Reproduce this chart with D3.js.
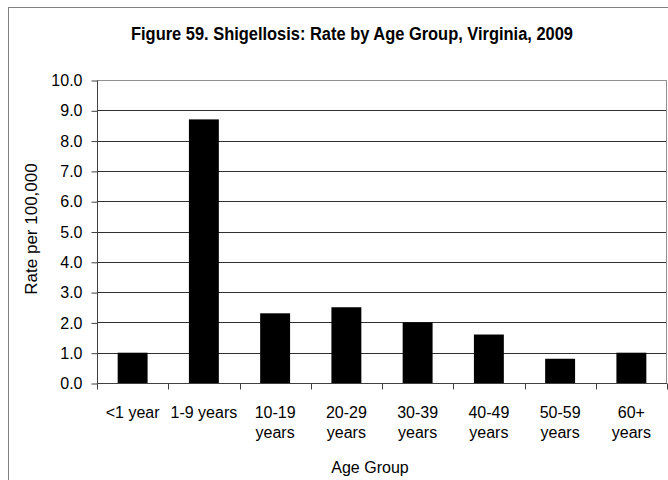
<!DOCTYPE html>
<html><head><meta charset="utf-8">
<script src="https://cdn.jsdelivr.net/npm/d3@7/dist/d3.min.js"></script>
<style>body{margin:0;background:#fff}svg{display:block}text{font-family:"Liberation Sans",Arial,sans-serif;fill:#000}</style>
</head><body>
<script>
const categories = ["<1 year", "1-9 years", "10-19 years", "20-29 years", "30-39 years", "40-49 years", "50-59 years", "60+ years"];
const labelLines = [["<1 year"], ["1-9 years"], ["10-19", "years"], ["20-29", "years"], ["30-39", "years"], ["40-49", "years"], ["50-59", "years"], ["60+", "years"]];
const rates = [1.0, 8.7, 2.3, 2.5, 2.0, 1.6, 0.8, 1.0];
const yTicks = [0, 1, 2, 3, 4, 5, 6, 7, 8, 9, 10];
const title = "Figure 59. Shigellosis: Rate by Age Group, Virginia, 2009";

(function () {
const W = 668, H = 480;
const svg = d3.select("body").append("svg").attr("width", W).attr("height", H);
svg.append("rect").attr("x", 8.5).attr("y", 7.5).attr("width", 700).attr("height", 500)
  .attr("fill", "#fff").attr("stroke", "#808080").attr("stroke-width", 1);

const pL = 97, pR = 667, pT = 80, pB = 383;
const x = d3.scaleBand().domain(categories).range([pL, pR]).paddingInner(0.58).paddingOuter(0.29);
const y = d3.scaleLinear().domain([0, 10]).range([pB, pT]);

svg.append("g").selectAll("line").data(yTicks.filter(d => d > 0)).join("line")
  .attr("x1", pL).attr("x2", pR)
  .attr("y1", d => Math.round(y(d)) + 0.5).attr("y2", d => Math.round(y(d)) + 0.5)
  .attr("stroke", d => d === 10 ? "#909090" : "#303030").attr("stroke-width", 1);
svg.append("line").attr("x1", pR - 0.5).attr("x2", pR - 0.5).attr("y1", pT).attr("y2", pB)
  .attr("stroke", "#909090");

svg.append("g").selectAll("rect").data(rates).join("rect")
  .attr("x", (d, i) => x(categories[i]))
  .attr("width", x.bandwidth())
  .attr("y", d => y(d))
  .attr("height", d => pB - y(d))
  .attr("fill", "#000");

const yAxis = d3.axisLeft(y).tickValues(yTicks).tickSize(6).tickPadding(9).tickFormat(d3.format(".1f"));
const gy = svg.append("g").attr("transform", `translate(${pL + 0.5},0.5)`).call(yAxis);
gy.selectAll("path,line").attr("stroke", "#404040");
gy.select(".domain").attr("d", `M0,${pT}V${pB}`);
gy.selectAll("text").attr("font-size", 16).attr("font-family", "Liberation Sans, Arial, sans-serif").attr("fill", "#000");

const gx = svg.append("g").attr("transform", `translate(0,${pB + 0.5})`);
gx.append("line").attr("x1", pL).attr("x2", pR).attr("stroke", "#404040");
const bounds = categories.map(c => x(c) - x.step() * x.paddingInner() / 2).concat([pR]);
bounds[0] = pL;
gx.selectAll("line.t").data(bounds).join("line").attr("class", "t")
  .attr("x1", d => Math.round(d) + 0.5).attr("x2", d => Math.round(d) + 0.5).attr("y1", 0).attr("y2", 6)
  .attr("stroke", "#404040");
const lab = svg.append("g").selectAll("text").data(labelLines).join("text")
  .attr("font-size", 16).attr("text-anchor", "middle")
  .attr("transform", (d, i) => `translate(${x(categories[i]) + x.bandwidth() / 2},0)`);
lab.selectAll("tspan").data(d => d).join("tspan").attr("x", 0).attr("y", (d, j) => 418 + j * 20).text(d => d);

svg.append("text").attr("x", 370).attr("y", 473).attr("text-anchor", "middle").attr("font-size", 16).text("Age Group");
svg.append("text").attr("transform", "translate(37,229) rotate(-90)").attr("text-anchor", "middle")
  .attr("font-size", 17).text("Rate per 100,000");
svg.append("text").attr("x", 352).attr("y", 40).attr("text-anchor", "middle").attr("font-size", 17.5)
  .attr("font-weight", "bold").attr("textLength", 442).attr("lengthAdjust", "spacingAndGlyphs").text(title);
})();
</script>
</body></html>
